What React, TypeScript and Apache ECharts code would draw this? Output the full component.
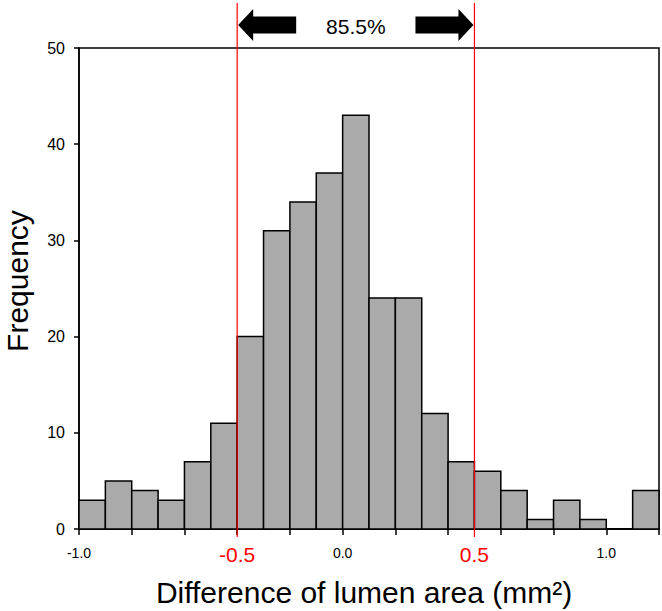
import React, { useEffect, useRef } from "react";
import * as echarts from "echarts";

// Histogram bins (left edge of each 0.1-wide bin, in axis units)
const binStarts = [-1.0, -0.9, -0.8, -0.7, -0.6, -0.5, -0.4, -0.3, -0.2, -0.1, 0.0, 0.1, 0.2, 0.3, 0.4, 0.5, 0.6, 0.7, 0.8, 0.9, 1.0, 1.1];
const frequencies = [3, 5, 4, 3, 7, 11, 20, 31, 34, 37, 43, 24, 24, 12, 7, 6, 4, 1, 3, 1, 0, 4];
const binWidth = 0.1;

// x-axis tick labels shown (value -> text)
const xTickValues = [-1.0, 0.0, 1.0];
const xTickTexts = ["-1.0", "0.0", "1.0"];

// Red cut-off lines (axis position) and their labels
const cutoffPositions = [-0.4, 0.5];
const cutoffTexts = ["-0.5", "0.5"];
const withinPercent = "85.5%";

const xTitle = "Difference of lumen area (mm²)";
const yTitle = "Frequency";

const FONT = "'Liberation Sans', Arial, Helvetica, sans-serif";

export default function App() {
  const ref = useRef<HTMLDivElement>(null);

  useEffect(() => {
    if (!ref.current) return;
    const chart = echarts.init(ref.current, null, { renderer: "svg" });
    const data = binStarts.map((x, i) => [x, frequencies[i]]);
    chart.setOption({
      animation: false,
      backgroundColor: "#fff",
      textStyle: { fontFamily: FONT },
      grid: {
        left: 79,
        right: 3,
        top: 48,
        bottom: 82,
        show: true,
        borderColor: "#000",
        borderWidth: 1.5,
        backgroundColor: "transparent",
      },
      xAxis: {
        type: "value",
        min: -1.0,
        max: 1.2,
        interval: 0.2,
        axisLine: { show: true, onZero: false, lineStyle: { color: "#000", width: 1.5 } },
        axisTick: { show: true, length: 6, lineStyle: { color: "#000", width: 1.5 } },
        splitLine: { show: false },
        axisLabel: {
          margin: 17,
          fontSize: 14,
          color: "#000",
          fontFamily: FONT,
          showMinLabel: true,
          showMaxLabel: true,
          formatter: (v: number) => {
            for (let i = 0; i < xTickValues.length; i++) {
              if (Math.abs(v - xTickValues[i]) < 1e-6) return xTickTexts[i];
            }
            return "";
          },
        },
      },
      yAxis: {
        type: "value",
        min: 0,
        max: 50,
        interval: 10,
        axisLine: { show: true, onZero: false, lineStyle: { color: "#000", width: 1.5 } },
        axisTick: { show: true, length: 5, lineStyle: { color: "#000", width: 1.5 } },
        splitLine: { show: false },
        axisLabel: { margin: 14, fontSize: 16, color: "#000", fontFamily: FONT },
      },
      series: [
        {
          type: "custom",
          data,
          renderItem: (params: any, api: any) => {
            const x0 = api.value(0);
            const h = api.value(1);
            const p0 = api.coord([x0, h]);
            const p1 = api.coord([x0 + binWidth, 0]);
            return {
              type: "rect",
              shape: { x: p0[0], y: p0[1], width: p1[0] - p0[0], height: p1[1] - p0[1] },
              style: { fill: "#aaaaaa", stroke: "#000", lineWidth: 1.5 },
            };
          },
        },
      ],
    });

    const lx = chart.convertToPixel({ gridIndex: 0 }, [cutoffPositions[0], 0]) as number[];
    const rx = chart.convertToPixel({ gridIndex: 0 }, [cutoffPositions[1], 0]) as number[];
    const x0 = lx[0];
    const x1 = rx[0];
    const baseY = lx[1];
    const ay = 25;
    const headW = 16;
    const headH = 16;
    const shaftH = 8.5;
    const arrowLen = 59;
    const graphics: any[] = [];
    [x0, x1].forEach((x, i) => {
      graphics.push({
        type: "line",
        z: 100,
        shape: { x1: x, y1: 3, x2: x, y2: baseY + 8 },
        style: { stroke: "#ff0000", lineWidth: 1.2 },
      });
      graphics.push({
        type: "text",
        z: 100,
        x,
        y: baseY + 25,
        style: {
          text: cutoffTexts[i],
          fill: "#ff0000",
          font: `21px ${FONT}`,
          align: "center",
          verticalAlign: "middle",
        },
      });
    });
    // left arrow
    graphics.push({
      type: "polygon",
      z: 100,
      shape: {
        points: [
          [x0 + 1, ay],
          [x0 + headW, ay - headH],
          [x0 + headW, ay - shaftH],
          [x0 + arrowLen, ay - shaftH],
          [x0 + arrowLen, ay + shaftH],
          [x0 + headW, ay + shaftH],
          [x0 + headW, ay + headH],
        ],
      },
      style: { fill: "#000" },
    });
    // right arrow
    graphics.push({
      type: "polygon",
      z: 100,
      shape: {
        points: [
          [x1 - 1, ay],
          [x1 - headW, ay - headH],
          [x1 - headW, ay - shaftH],
          [x1 - arrowLen, ay - shaftH],
          [x1 - arrowLen, ay + shaftH],
          [x1 - headW, ay + shaftH],
          [x1 - headW, ay + headH],
        ],
      },
      style: { fill: "#000" },
    });
    graphics.push({
      type: "text",
      z: 100,
      x: (x0 + x1) / 2,
      y: ay + 1,
      style: {
        text: withinPercent,
        fill: "#000",
        font: `21px ${FONT}`,
        align: "center",
        verticalAlign: "middle",
      },
    });
    // axis titles
    graphics.push({
      type: "text",
      z: 100,
      x: 364,
      y: 592,
      style: {
        text: xTitle,
        fill: "#000",
        font: `30px ${FONT}`,
        align: "center",
        verticalAlign: "middle",
      },
    });
    graphics.push({
      type: "text",
      z: 100,
      x: 17,
      y: 281,
      rotation: Math.PI / 2,
      style: {
        text: yTitle,
        fill: "#000",
        font: `30px ${FONT}`,
        align: "center",
        verticalAlign: "middle",
      },
    });
    chart.setOption({ graphic: graphics });

    return () => chart.dispose();
  }, []);

  return (
    <div
      ref={ref}
      style={{ position: "fixed", left: 0, top: 0, width: 662, height: 611 }}
    />
  );
}
